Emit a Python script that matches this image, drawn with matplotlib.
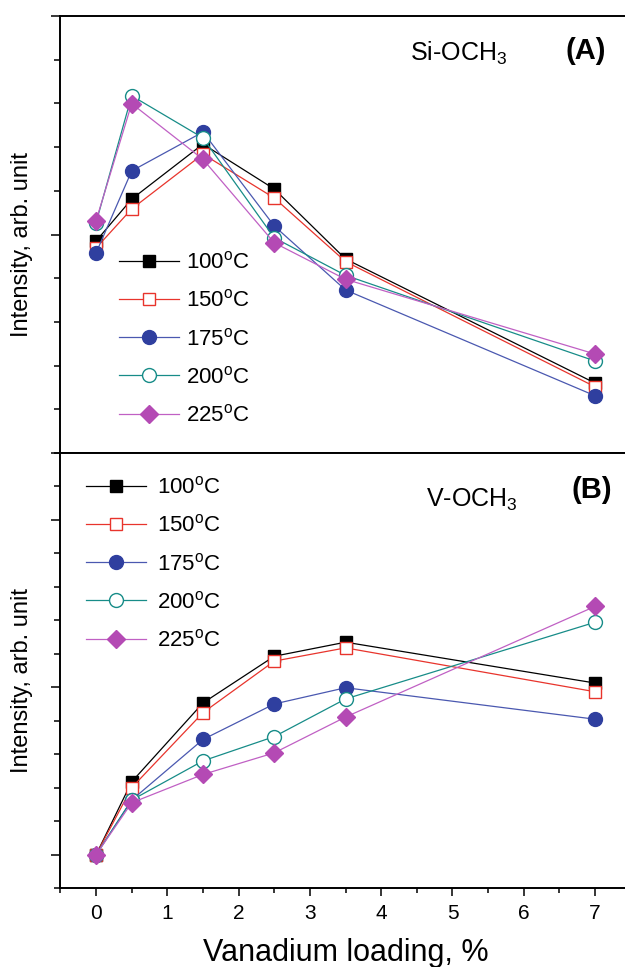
import matplotlib
matplotlib.use("Agg")
import matplotlib.pyplot as plt
from matplotlib.ticker import MultipleLocator

plt.rcParams['font.family'] = ['Liberation Sans', 'DejaVu Sans']
plt.rcParams['mathtext.fontset'] = 'custom'
plt.rcParams['mathtext.rm'] = 'Liberation Sans'
plt.rcParams['mathtext.it'] = 'Liberation Sans:italic'
plt.rcParams['mathtext.bf'] = 'Liberation Sans:bold'

# ---- data ----
loading = [0, 0.5, 1.5, 2.5, 3.5, 7]
temps = ["100", "150", "175", "200", "225"]

si_100 = [0.970, 1.162, 1.414, 1.208, 0.888, 0.320]
si_150 = [0.938, 1.117, 1.368, 1.167, 0.876, 0.303]
si_175 = [0.915, 1.291, 1.469, 1.039, 0.746, 0.262]
si_200 = [1.054, 1.635, 1.442, 0.985, 0.813, 0.421]
si_225 = [1.063, 1.599, 1.344, 0.962, 0.795, 0.453]

v_100 = [0.0, 0.436, 0.907, 1.186, 1.270, 1.026]
v_150 = [0.0, 0.401, 0.849, 1.157, 1.236, 0.974]
v_175 = [0.0, 0.327, 0.689, 0.901, 0.998, 0.810]
v_200 = [0.0, 0.327, 0.561, 0.706, 0.931, 1.389]
v_225 = [0.0, 0.311, 0.480, 0.609, 0.823, 1.484]

si_series = [si_100, si_150, si_175, si_200, si_225]
v_series = [v_100, v_150, v_175, v_200, v_225]

# ---- styles ----
styles = [
    dict(color='black', marker='s', mfc='black', mec='black', ms=8),
    dict(color='#e8342c', marker='s', mfc='white', mec='#e8342c', ms=8, mew=1.0),
    dict(color='#4a58b0', marker='o', mfc='#2f3f9f', mec='#2f3f9f', ms=10),
    dict(color='#178c88', marker='o', mfc='white', mec='#178c88', ms=10, mew=1.0),
    dict(color='#c060c4', marker='D', mfc='#b44ab4', mec='#b44ab4', ms=9),
]

W, H = 625, 967
fig = plt.figure(figsize=(W / 100, H / 100), dpi=100)

px_per_unit = 71.29
left_px = 60.4
ax_w = 8 * px_per_unit / W
ax_l = left_px / W

axA = fig.add_axes([ax_l, 1 - 453 / H, ax_w, (453 - 16) / H])
axB = fig.add_axes([ax_l, 1 - 888.3 / H, ax_w, (888.3 - 453) / H])

for ax, series in ((axA, si_series), (axB, v_series)):
    for t, ys, st in zip(temps, series, styles):
        ax.plot(loading, ys, lw=0.9, label=t + r"$^{\mathrm{o}}$C", **st)
    ax.set_xlim(-0.5, 7.5)
    ax.xaxis.set_major_locator(MultipleLocator(1))
    ax.xaxis.set_minor_locator(MultipleLocator(0.5))
    ax.yaxis.set_major_locator(MultipleLocator(1))
    ax.yaxis.set_minor_locator(MultipleLocator(0.2))
    ax.tick_params(which='both', direction='out', width=1.1, top=False, right=False)
    ax.tick_params(which='major', length=6)
    ax.tick_params(which='minor', length=3.8)
    ax.tick_params(axis='y', which='major', length=6.5)
    ax.tick_params(axis='y', which='minor', length=4)
    ax.set_yticklabels([])
    ax.tick_params(axis='x', labelsize=15, pad=5)
    for s in ax.spines.values():
        s.set_linewidth(1.4)
    ax.set_ylabel("Intensity, arb. unit", fontsize=17)
    ax.yaxis.set_label_coords(-0.048, 0.478)

axA.set_ylim(0, 2)
axB.set_ylim(-0.2, 2.4)
axA.set_xticklabels([])
axB.set_xlabel("Vanadium loading, %", fontsize=22, labelpad=11)

legA = axA.legend(loc='upper left', bbox_to_anchor=(0.103, 0.461), frameon=False,
                  fontsize=16, handlelength=2.7, handletextpad=0.3,
                  labelspacing=0.73, borderpad=0, borderaxespad=0)
legB = axB.legend(loc='upper left', bbox_to_anchor=(0.045, 0.946), frameon=False,
                  fontsize=16, handlelength=2.7, handletextpad=0.5,
                  labelspacing=0.73, borderpad=0, borderaxespad=0)

axA.text(0.613, 0.897, r"Si-OCH$_{3}$", transform=axA.transAxes, fontsize=18,
         ha='left', va='baseline')
axA.text(0.885, 0.902, "(A)", transform=axA.transAxes, fontsize=21,
         fontweight='bold', ha='left', va='baseline')
axB.text(0.641, 0.876, r"V-OCH$_{3}$", transform=axB.transAxes, fontsize=18,
         ha='left', va='baseline')
axB.text(0.897, 0.897, "(B)", transform=axB.transAxes, fontsize=21,
         fontweight='bold', ha='left', va='baseline')

fig.savefig("out.png", dpi=100)
